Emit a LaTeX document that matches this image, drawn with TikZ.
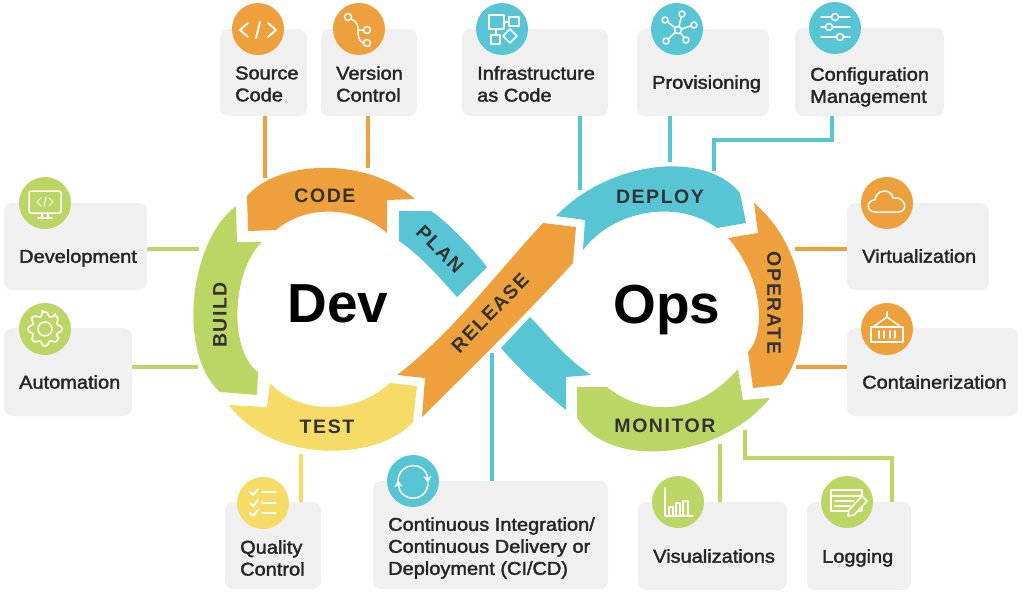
\documentclass[tikz,border=0pt]{standalone}
\usepackage{fontspec}
\setmainfont{Liberation Sans}
\newfontfamily\boxfont[FakeBold=2, FakeStretch=1.08]{Liberation Sans}
\newfontfamily\bandfont[LetterSpace=8]{Liberation Sans}
\usetikzlibrary{arrows.meta}
\definecolor{opsorange}{HTML}{EDA03C}
\definecolor{opscyan}{HTML}{58C5D5}
\definecolor{opsgreen}{HTML}{BBD665}
\definecolor{opsyellow}{HTML}{F6DC66}
\definecolor{boxgray}{HTML}{F0F0F0}
\definecolor{inkgray}{HTML}{333333}
\begin{document}
\begin{tikzpicture}[
    x=1pt, y=-1pt,
    infobox/.style={
        fill=boxgray,
        rounded corners=8pt,
        inner sep=0pt
    },
    infotext/.style={
        font=\boxfont\fontsize{18.5}{22}\selectfont,
        text=black!85,
        align=left,
        anchor=west,
        inner sep=0pt
    },
    iconspot/.style={circle, minimum size=52pt, inner sep=0pt},
    iconline/.style={draw=white, line width=1.5pt, line join=round, line cap=round},
    linkline/.style={line width=3.2pt},
    bandlabel/.style={font=\bandfont\bfseries\fontsize{19.5}{21}\selectfont, text=inkgray, inner sep=0pt},
    bigword/.style={font=\bfseries\fontsize{55}{60}\selectfont, text=black, anchor=base, inner sep=0pt}
]
\useasboundingbox (0,0) rectangle (1024,605);

% ---------- macro to draw one grey box with its text ----------
% #1 = name, #2-#5 = left, top, right, bottom, #6 = text y, #7 = text
\newcommand{\infopanel}[7]{
    \node[infobox, minimum width={(#4-#2)*1pt}, minimum height={(#5-#3)*1pt}] (#1box) at ({(#2+#4)/2},{(#3+#5)/2}) {};
    \node[infotext] (#1text) at (#2+15,#6) {#7};
}

% ---------- macro to draw one icon disc ----------
% #1 = name, #2 = x, #3 = y, #4 = colour, #5 = white drawing commands
\newcommand{\icondisc}[5]{
    \node[iconspot, fill=#4] (#1icon) at (#2,#3) {};
    \begin{scope}[shift={(#1icon.center)}]
        #5
    \end{scope}
}

% ---------- boxes ----------
\infopanel{source}{220}{29}{307}{116}{84}{Source\\Code}
\infopanel{version}{321}{29}{417}{116}{84}{Version\\Control}
\infopanel{infra}{462}{29}{608}{116}{84}{Infrastructure\\as Code}
\infopanel{prov}{637}{29}{769}{116}{84}{Provisioning}
\infopanel{config}{795}{28}{944}{116}{87}{Configuration\\Management}
\infopanel{devel}{4}{203}{147}{290}{258}{Development}
\infopanel{auto}{4}{328}{132}{416}{382}{Automation}
\infopanel{virt}{847}{203}{989}{290}{256}{Virtualization}
\infopanel{cont}{847}{328}{1018}{416}{382}{Containerization}
\infopanel{quality}{225}{502}{321}{589}{558}{Quality\\Control}
\infopanel{cicd}{373}{481}{608}{589}{548}{Continuous Integration/\\Continuous Delivery or\\Deployment (CI/CD)}
\infopanel{visual}{638}{502}{787}{590}{556}{Visualizations}
\infopanel{logging}{807}{502}{911}{590}{558}{Logging}

% ---------- connectors ----------
\coordinate (codeport) at (265,178);
\coordinate (verport) at (368,168);
\coordinate (infraport) at (580,190);
\coordinate (provport) at (670,162);
\coordinate (cfgbend) at (832,140);
\coordinate (cfgport) at (714,171);
\coordinate (devport) at (199,249);
\coordinate (autoport) at (198,367);
\coordinate (virtport) at (795,249);
\coordinate (contport) at (796,367);
\coordinate (testport) at (301,454);
\coordinate (relport) at (492,353);
\coordinate (visport) at (720,444);
\coordinate (logport) at (745,430);
\coordinate (logbend) at (892,458);
\draw[linkline, opsorange] (sourcebox.south -| codeport) -- (codeport);
\draw[linkline, opsorange] (versionbox.south -| verport) -- (verport);
\draw[linkline, opscyan] (infrabox.south -| infraport) -- (infraport);
\draw[linkline, opscyan] (provbox.south -| provport) -- (provport);
\draw[linkline, opscyan] (configbox.south -| cfgbend) -- (cfgbend) -| (cfgport);
\draw[linkline, opsgreen] (develbox.east |- devport) -- (devport);
\draw[linkline, opsgreen] (autobox.east |- autoport) -- (autoport);
\draw[linkline, opsorange] (virtbox.west |- virtport) -- (virtport);
\draw[linkline, opsorange] (contbox.west |- contport) -- (contport);
\draw[linkline, opsyellow] (qualitybox.north -| testport) -- (testport);
\draw[linkline, opscyan] (cicdbox.north -| relport) -- (relport);
\draw[linkline, opsgreen] (visualbox.north -| visport) -- (visport);
\draw[linkline, opsgreen] (loggingbox.north -| logbend) -- (logbend) -| (logport);

% ---------- infinity bands, left loop ----------
\fill[opsorange] (247,196) .. controls (280,158) and (370,158) .. (415,199) -- (387,200) -- (387,233) .. controls (355,205) and (305,205) .. (276,230) -- (248,231) -- cycle;
\fill[opscyan] (399,211) -- (431,211) .. controls (445,220) and (470,245) .. (487,267) -- (457,297) .. controls (440,278) and (420,255) .. (399,241) -- cycle;
\fill[opsgreen] (236,206) .. controls (190,240) and (176,352) .. (220,392) -- (257,395) -- (258,372) .. controls (228,350) and (232,270) .. (262,242) -- (237,242) -- cycle;
\fill[opsyellow] (229,405) -- (267,407) -- (270,383) .. controls (300,415) and (355,415) .. (390,383) -- (417,386) -- (413,422) .. controls (380,460) and (275,466) .. (229,405) -- cycle;

% ---------- infinity bands, right loop ----------
\fill[opscyan] (530,317) .. controls (545,332) and (565,358) .. (591,375) -- (566,377) -- (566,410) .. controls (545,393) and (520,370) .. (501,348) -- cycle;
\fill[opsorange] (397,375) .. controls (450,335) and (495,275) .. (543,223) -- (576,227) -- (573,263) .. controls (530,310) and (475,365) .. (422,417) -- (425,378) -- cycle;
\fill[opscyan] (556,216) -- (585,220) -- (583,250) .. controls (615,208) and (680,200) .. (717,228) -- (746,223) -- (740,193) .. controls (705,150) and (610,160) .. (556,216) -- cycle;
\fill[opsorange] (754,203) .. controls (805,245) and (820,335) .. (781,385) -- (753,388) -- (748,352) .. controls (765,335) and (765,280) .. (728,238) -- (758,233) -- cycle;
\fill[opsgreen] (577,387) -- (607,387) .. controls (635,410) and (690,424) .. (738,369) -- (743,400) -- (770,398) .. controls (720,460) and (610,470) .. (577,418) -- cycle;

% ---------- band labels ----------
\node[bandlabel] (codelabel) at (325,196) {CODE};
\node[bandlabel, rotate=-45] (planlabel) at (440,249) {PLAN};
\node[bandlabel, rotate=90] (buildlabel) at (220,315) {BUILD};
\node[bandlabel] (testlabel) at (327,427) {TEST};
\node[bandlabel, rotate=46] (releaselabel) at (490,313) {RELEASE};
\node[bandlabel] (deploylabel) at (660,197) {DEPLOY};
\node[bandlabel, rotate=-90] (operatelabel) at (774,303) {OPERATE};
\node[bandlabel] (monitorlabel) at (665,426) {MONITOR};
\node[bigword] (devword) at (338,322) {Dev};
\node[bigword] (opsword) at (667,323) {Ops};

% ---------- icon discs ----------
\icondisc{source}{258}{29}{opsorange}{
    \draw[iconline, line width=1.9pt] (-10,-6) -- (-18,1) -- (-10,8);
    \draw[iconline, line width=1.9pt] (10,-6) -- (18,1) -- (10,8);
    \draw[iconline, line width=1.9pt] (2,-7) -- (-2,9);
}
\icondisc{version}{359}{29}{opsorange}{
    \draw[iconline] (-11,-12) circle[radius=3.5];
    \draw[iconline] (8,1) circle[radius=3.5];
    \draw[iconline] (8,14) circle[radius=3.5];
    \draw[iconline] (-8,-10) .. controls (-1,-7) and (-1,-3) .. (-1,1) -- (4,1);
    \draw[iconline] (-1,1) .. controls (-1,8) and (0,12) .. (4,14);
}
\icondisc{infra}{502}{29}{opscyan}{
    \draw[iconline] (-13,-14) rectangle (2,0);
    \draw[iconline] (7,-12) rectangle (17,-3);
    \draw[iconline] (2,-7) -- (7,-7);
    \draw[iconline] (-11,6) rectangle (-2,15);
    \draw[iconline] (-6,0) -- (-6,6);
    \draw[iconline] (8,0) -- (15,7) -- (8,14) -- (1,7) -- cycle;
}
\icondisc{prov}{677}{29}{opscyan}{
    \foreach \px/\py in {5/-15, 17/-4, 9/11, -11/12, -12/-9}{
        \draw[iconline] (1,1) -- (\px,\py);
        \draw[iconline, fill=opscyan] (\px,\py) circle[radius=3];
    }
    \draw[iconline, fill=opscyan] (1,1) circle[radius=3.5];
}
\icondisc{config}{835}{28}{opscyan}{
    \foreach \ky/\kx in {-11/0, -1/-6, 9/5}{
        \draw[iconline] (-14,\ky) -- (15,\ky);
        \draw[iconline, fill=opscyan] (\kx,\ky) circle[radius=3.5];
    }
}
\icondisc{devel}{45}{203}{opsgreen}{
    \draw[iconline, rounded corners=1.5pt] (-16,-12) rectangle (16,10);
    \draw[iconline] (-3,10) -- (-3,15);
    \draw[iconline] (3,10) -- (3,15);
    \draw[iconline] (-7,15) -- (7,15);
    \draw[iconline, line width=1pt] (-4,-5) -- (-8,-1) -- (-4,3);
    \draw[iconline, line width=1pt] (4,-5) -- (8,-1) -- (4,3);
    \draw[iconline, line width=1pt] (1,-6) -- (-1,4);
}
\icondisc{auto}{45}{329}{opsgreen}{
    \draw[iconline, rounded corners=1.5pt] (0:17)
        \foreach \ga in {0,45,...,315}{
            -- (\ga-9:17) -- (\ga+9:17) -- (\ga+16:13) -- (\ga+29:13) -- (\ga+36:17)
        } -- cycle;
    \draw[iconline] (0,0) circle[radius=7];
}
\icondisc{virt}{887}{203}{opsorange}{
    \draw[iconline] (-12,9) .. controls (-21,9) and (-21,-3) .. (-12,-3)
        .. controls (-11,-14) and (4,-15) .. (6,-5)
        .. controls (19,-7) and (22,9) .. (11,9) -- cycle;
}
\icondisc{cont}{887}{329}{opsorange}{
    \draw[iconline] (-16,-2) rectangle (16,13);
    \draw[iconline] (-14,-2) -- (0,-12) -- (14,-2);
    \draw[iconline] (0,-12) -- (0,-17);
    \foreach \bx in {-8,-3,3,8}{
        \draw[iconline, line width=1.9pt] (\bx,2) -- (\bx,9);
    }
}
\icondisc{quality}{263}{503}{opsyellow}{
    \foreach \cy in {-11,0,10}{
        \draw[iconline, line width=1.9pt] (-13,\cy) -- (-10,\cy+3) -- (-5,\cy-3);
        \draw[iconline, line width=1.9pt] (-1,\cy) -- (13,\cy);
    }
}
\icondisc{cicd}{413}{481}{opscyan}{
    \draw[iconline, -{Stealth[length=7pt,width=8pt]}] (-15,-1) .. controls (-13,-20) and (13,-20) .. (15,2);
    \draw[iconline, -{Stealth[length=7pt,width=8pt]}] (15,3) .. controls (13,22) and (-13,22) .. (-15,-1);
}
\icondisc{visual}{678}{502}{opsgreen}{
    \draw[iconline] (-13,-14) -- (-13,14) -- (15,14);
    \draw[iconline] (-9,14) -- (-9,5) -- (-5,5) -- (-5,14);
    \draw[iconline] (-2,14) -- (-2,1) -- (2,1) -- (2,14);
    \draw[iconline] (5,14) -- (5,-1) -- (10,-1) -- (10,14);
}
\icondisc{logging}{847}{502}{opsgreen}{
    \draw[iconline] (-16,-12) rectangle (15,9);
    \draw[iconline] (-16,-6) -- (15,-6);
    \draw[iconline] (-12,-1) -- (7,-1);
    \draw[iconline] (-12,4) -- (3,4);
    \draw[iconline, fill=opsgreen] (1,14) -- (2,8) -- (15,-6) -- (20,-1) -- (7,13) -- cycle;
}

\end{tikzpicture}
\end{document}
